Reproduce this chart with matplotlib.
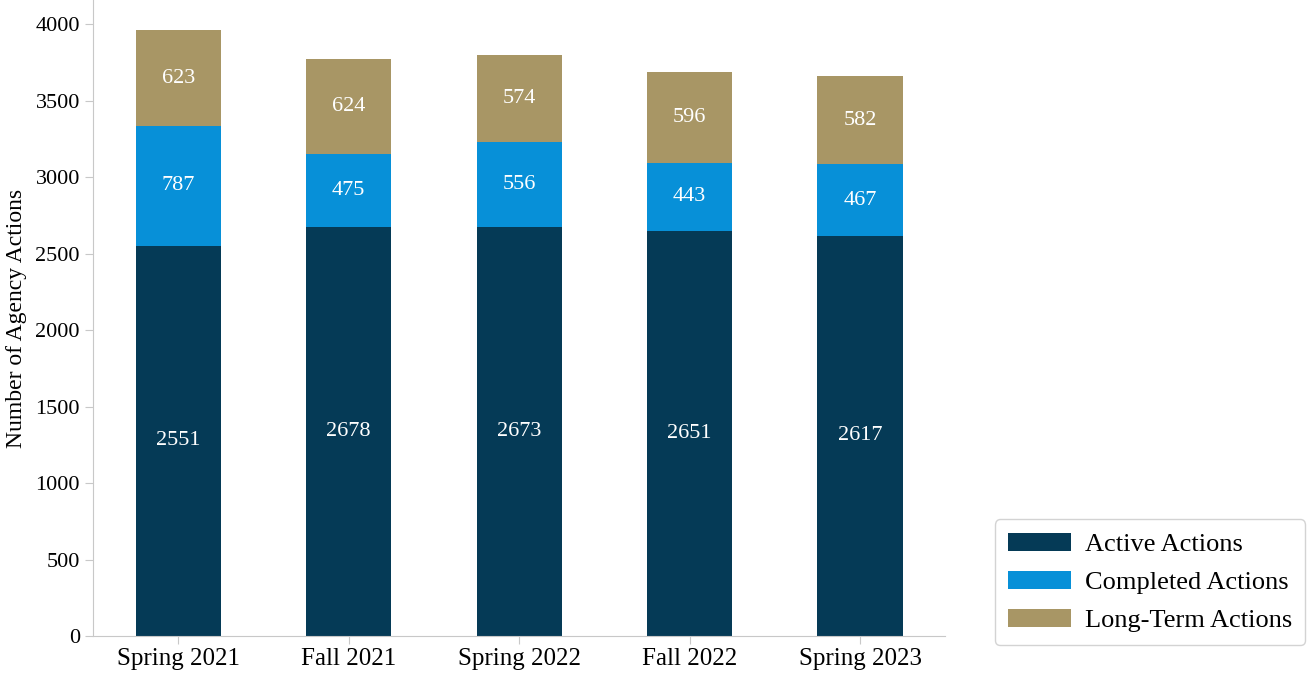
import matplotlib

matplotlib.use("Agg")
import matplotlib.pyplot as plt
import numpy as np

plt.rcParams["font.family"] = ["Liberation Serif", "DejaVu Serif"]

# ── Data ──────────────────────────────────────────────
periods = ["Spring 2021", "Fall 2021", "Spring 2022", "Fall 2022", "Spring 2023"]
active = [2551, 2678, 2673, 2651, 2617]
completed = [787, 475, 556, 443, 467]
long_term = [623, 624, 574, 596, 582]

series = [
    ("Active Actions", active, "#053a56"),
    ("Completed Actions", completed, "#0790d8"),
    ("Long-Term Actions", long_term, "#a89665"),
]

fig = plt.figure(figsize=(13.07, 6.77), dpi=100)
ax = fig.add_axes([0.0712, 0.0606, 0.652, 0.9394])

x = np.arange(len(periods))
width = 0.5
bottom = np.zeros(len(periods))
for label, vals, color in series:
    vals = np.array(vals)
    ax.bar(x, vals, width, bottom=bottom, color=color, label=label)
    for xi, b, v in zip(x, bottom, vals):
        ax.text(xi, b + v / 2, f"{v}", ha="center", va="center",
                color="white", fontsize=16)
    bottom += vals

ax.set_xlim(-0.5, 4.5)
ax.set_ylim(0, 4160)
ax.set_yticks(np.arange(0, 4001, 500))
ax.set_xticks(x)
ax.set_xticklabels(periods, fontsize=18)
ax.tick_params(axis="y", labelsize=16, colors="black")
ax.tick_params(axis="x", colors="black", pad=3)
ax.tick_params(color="#c8c8c8", length=6)
ax.set_ylabel("Number of Agency Actions", fontsize=17, labelpad=6)

for side in ["top", "right"]:
    ax.spines[side].set_visible(False)
for side in ["left", "bottom"]:
    ax.spines[side].set_color("#c8c8c8")

leg = fig.legend(
    loc="lower right",
    bbox_to_anchor=(0.9985, 0.047),
    borderaxespad=0,
    fontsize=19,
    handlelength=2.4,
    handleheight=0.7,
    labelspacing=0.55,
    handletextpad=0.5,
    borderpad=0.5,
    frameon=True,
)
leg.get_frame().set_edgecolor("#c8c8c8")

fig.savefig("out.png", dpi=100)
